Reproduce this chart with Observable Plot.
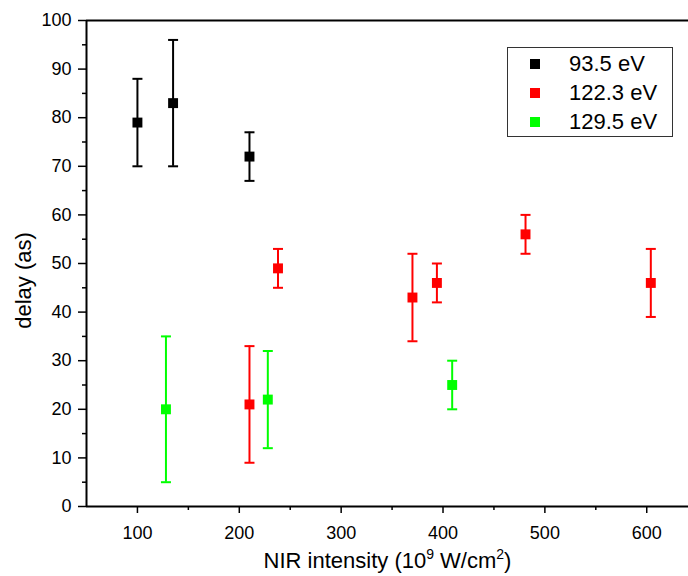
<!DOCTYPE html>
<html>
<head>
<meta charset="utf-8">
<script src="https://cdn.jsdelivr.net/npm/d3@7"></script>
<script src="https://cdn.jsdelivr.net/npm/@observablehq/plot@0.6"></script>
<style>
  body { margin: 0; background: #fff; }
  #wrap { position: relative; width: 688px; height: 576px; font-family: "Liberation Sans", Arial, sans-serif; }
  #legend { position: absolute; left: 507px; top: 47px; width: 164px; height: 88px; border: 1px solid #333; background: #fff; }
  .row { position: absolute; left: 0; height: 24px; display: flex; align-items: center; font-size: 22px; color: #000; }
  .sw { position: absolute; left: 22px; width: 10px; height: 10px; }
  .lb { position: absolute; left: 61px; white-space: nowrap; }
</style>
</head>
<body>
<div id="wrap"></div>
<script>
// ---- data ----
const seriesLabels = ["93.5 eV", "122.3 eV", "129.5 eV"];
const seriesColors = ["#000000", "#ff0000", "#00ff00"];

const x935 = [100, 135, 210];
const y935 = [79, 83, 72];
const lo935 = [70, 70, 67];
const hi935 = [88, 96, 77];

const x1223 = [210, 238, 370, 394, 481, 604];
const y1223 = [21, 49, 43, 46, 56, 46];
const lo1223 = [9, 45, 34, 42, 52, 39];
const hi1223 = [33, 53, 52, 50, 60, 53];

const x1295 = [128, 228, 409];
const y1295 = [20, 22, 25];
const lo1295 = [5, 12, 20];
const hi1295 = [35, 32, 30];

const xTicks = [100, 200, 300, 400, 500, 600];
const xMinor = [150, 250, 350, 450, 550];
const yTicks = [0, 10, 20, 30, 40, 50, 60, 70, 80, 90, 100];
const yMinor = [5, 15, 25, 35, 45, 55, 65, 75, 85, 95];

const xLabel = "NIR intensity (10^9 W/cm^2)";
const yLabel = "delay (as)";

// ---- build ----
const seriesX = [x935, x1223, x1295];
const seriesY = [y935, y1223, y1295];
const seriesLo = [lo935, lo1223, lo1295];
const seriesHi = [hi935, hi1223, hi1295];

const capSym = {draw(ctx, size) { const r = Math.sqrt(size / Math.PI); ctx.moveTo(-r, 0); ctx.lineTo(r, 0); }};

const marks = [];
seriesLabels.forEach((name, s) => {
  const rows = seriesX[s].map((x, i) => ({x, y: seriesY[s][i], lo: seriesLo[s][i], hi: seriesHi[s][i]}));
  const c = seriesColors[s];
  marks.push(Plot.ruleX(rows, {x: "x", y1: "lo", y2: "hi", stroke: c, strokeWidth: 2}));
  marks.push(Plot.dot(rows, {x: "x", y: "lo", symbol: capSym, r: 5, stroke: c, strokeWidth: 2}));
  marks.push(Plot.dot(rows, {x: "x", y: "hi", symbol: capSym, r: 5, stroke: c, strokeWidth: 2}));
  marks.push(Plot.dot(rows, {x: "x", y: "y", symbol: "square", r: 5.6, fill: c, stroke: "none"}));
});

const chart = Plot.plot({
  width: 688,
  height: 576,
  marginLeft: 86,
  marginRight: 0,
  marginTop: 20,
  marginBottom: 70,
  style: {fontFamily: "Liberation Sans, Arial, sans-serif", fontSize: "18px", color: "#000", background: "#fff"},
  x: {domain: [50, 641]},
  y: {domain: [0, 100]},
  marks: [
    Plot.axisX({ticks: xTicks, tickSize: 7, tickPadding: 13, strokeWidth: 1.5, label: null, fontSize: 18}),
    Plot.axisX({ticks: xMinor, tickSize: 4, text: null, strokeWidth: 1.5, label: null}),
    Plot.axisY({ticks: yTicks, tickSize: 8, tickPadding: 7, strokeWidth: 1.5, label: null, fontSize: 18}),
    Plot.axisY({ticks: yMinor, tickSize: 4, text: null, strokeWidth: 1.5, label: null}),
    ...marks,
    Plot.ruleY([0], {strokeWidth: 2}),
    Plot.ruleY([100], {strokeWidth: 2}),
    Plot.ruleX([50], {strokeWidth: 2}),
    Plot.text([xLabel], {frameAnchor: "bottom", dy: 61, fontSize: 22, lineAnchor: "bottom", textAnchor: "middle"}),
    Plot.text([yLabel], {frameAnchor: "left", dx: -63, dy: 17, rotate: -90, fontSize: 22, textAnchor: "middle"})
  ]
});

// superscripts in the x label
chart.querySelectorAll("text").forEach(t => {
  if (t.textContent === xLabel) {
    t.innerHTML = 'NIR intensity (10<tspan dy="-9" font-size="14">9</tspan><tspan dy="9"> W/cm</tspan><tspan dy="-9" font-size="14">2</tspan><tspan dy="9">)</tspan>';
  }
});

const wrap = document.getElementById("wrap");
wrap.appendChild(chart);

const legend = document.createElement("div");
legend.id = "legend";
seriesLabels.forEach((name, s) => {
  const row = document.createElement("div");
  row.className = "row";
  row.style.top = (4 + s * 29) + "px";
  row.style.width = "100%";
  const sw = document.createElement("div");
  sw.className = "sw";
  sw.style.background = seriesColors[s];
  sw.style.top = "7px";
  const lb = document.createElement("div");
  lb.className = "lb";
  lb.textContent = name;
  row.appendChild(sw);
  row.appendChild(lb);
  legend.appendChild(row);
});
wrap.appendChild(legend);
</script>
</body>
</html>
